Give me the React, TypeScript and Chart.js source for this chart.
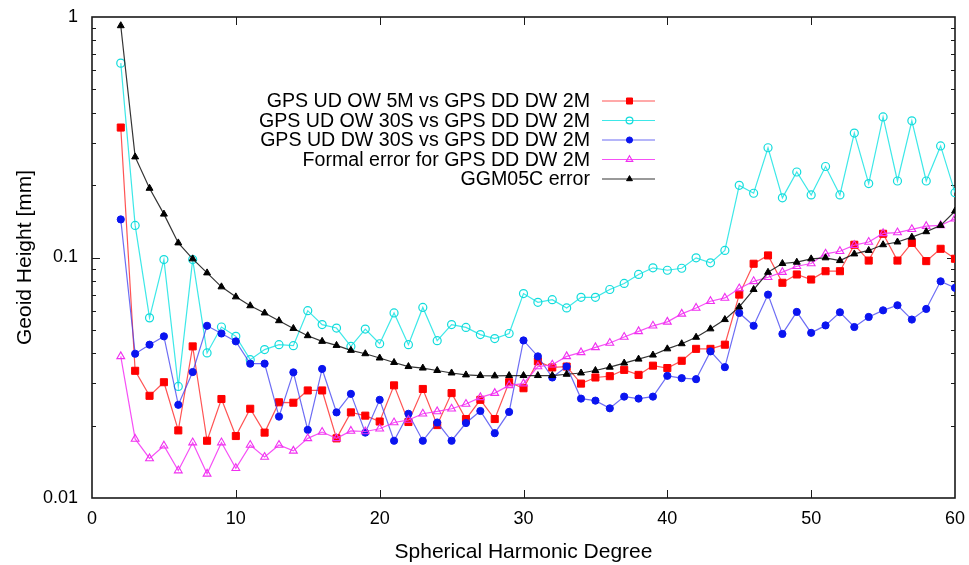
import { useEffect, useRef } from 'react';
import { Chart, registerables } from 'chart.js';
import { drawPoint } from 'chart.js/helpers';

Chart.register(...registerables);

// Spherical harmonic degree
const degrees = [
  2, 3, 4, 5, 6, 7, 8, 9, 10, 11, 12, 13, 14, 15, 16, 17, 18, 19, 20, 21,
  22, 23, 24, 25, 26, 27, 28, 29, 30, 31, 32, 33, 34, 35, 36, 37, 38, 39, 40, 41,
  42, 43, 44, 45, 46, 47, 48, 49, 50, 51, 52, 53, 54, 55, 56, 57, 58, 59, 60,
];

// Geoid height per degree [mm]
const udOw5mVsDd2m = [
  0.347, 0.0338, 0.0266, 0.0303, 0.0191, 0.0427, 0.0173, 0.0258, 0.0181, 0.0235,
  0.0187, 0.025, 0.0249, 0.028, 0.028, 0.0177, 0.0227, 0.022, 0.0208, 0.0294,
  0.0207, 0.0284, 0.0201, 0.0273, 0.0213, 0.0256, 0.0213, 0.0303, 0.0286, 0.037,
  0.0349, 0.0352, 0.0299, 0.0317, 0.0321, 0.0341, 0.0325, 0.0355, 0.0347, 0.0372,
  0.0417, 0.0417, 0.0434, 0.0701, 0.0942, 0.102, 0.0785, 0.085, 0.081, 0.0877,
  0.0877, 0.113, 0.0971, 0.1255, 0.0971, 0.115, 0.0966, 0.1087, 0.0988,
];

const udOw30sVsDd2m = [
  0.643, 0.136, 0.0561, 0.098, 0.0291, 0.098, 0.0401, 0.0514, 0.047, 0.0376,
  0.0414, 0.0434, 0.043, 0.0601, 0.0526, 0.0509, 0.0427, 0.0504, 0.0438, 0.0588,
  0.0434, 0.062, 0.0451, 0.0526, 0.0512, 0.0478, 0.046, 0.0483, 0.0708, 0.0651,
  0.0668, 0.0617, 0.0683, 0.0683, 0.0736, 0.078, 0.085, 0.0906, 0.0885, 0.0902,
  0.0997, 0.095, 0.107, 0.1995, 0.185, 0.286, 0.177, 0.2267, 0.182, 0.239,
  0.182, 0.329, 0.203, 0.384, 0.208, 0.37, 0.208, 0.291, 0.186,
];

const udDw30sVsDd2m = [
  0.144, 0.0398, 0.0434, 0.047, 0.0244, 0.0334, 0.052, 0.0483, 0.0448, 0.0362,
  0.0362, 0.0218, 0.0333, 0.0192, 0.0344, 0.0227, 0.0271, 0.0187, 0.0256, 0.0173,
  0.0224, 0.0173, 0.0206, 0.0173, 0.0205, 0.023, 0.0186, 0.0228, 0.0452, 0.0388,
  0.0317, 0.0352, 0.0259, 0.0254, 0.0236, 0.0264, 0.0259, 0.0264, 0.0322, 0.0315,
  0.0312, 0.0407, 0.035, 0.0588, 0.052, 0.0701, 0.0481, 0.0594, 0.0486, 0.0522,
  0.0592, 0.0514, 0.0566, 0.0603, 0.0633, 0.0552, 0.0611, 0.0796, 0.0748,
];

const formalErrorDd2m = [
  0.0388, 0.0176, 0.0146, 0.0165, 0.013, 0.017, 0.0126, 0.017, 0.0133, 0.0166,
  0.0148, 0.0166, 0.0157, 0.0177, 0.0188, 0.0177, 0.019, 0.0189, 0.0194, 0.0206,
  0.0211, 0.0224, 0.0229, 0.0235, 0.0246, 0.0262, 0.0273, 0.0294, 0.0299, 0.0352,
  0.0358, 0.0388, 0.0403, 0.0423, 0.0441, 0.0467, 0.0493, 0.052, 0.054, 0.0583,
  0.0617, 0.0658, 0.0679, 0.0743, 0.0796, 0.0828, 0.0869, 0.092, 0.0944, 0.1036,
  0.1062, 0.1125, 0.116, 0.126, 0.127, 0.131, 0.135, 0.136, 0.145,
];

const ggm05cError = [
  0.92, 0.262, 0.194, 0.1515, 0.115, 0.0987, 0.0863, 0.0755, 0.0686, 0.063,
  0.0588, 0.0546, 0.0507, 0.0473, 0.0448, 0.0431, 0.0411, 0.0398, 0.0382, 0.0366,
  0.0352, 0.0347, 0.0339, 0.0331, 0.0325, 0.0323, 0.0322, 0.0323, 0.0323, 0.0323,
  0.0323, 0.0327, 0.0331, 0.0339, 0.035, 0.0364, 0.0378, 0.0393, 0.0417, 0.0438,
  0.0466, 0.0505, 0.0552, 0.0623, 0.0736, 0.0868, 0.0944, 0.0956, 0.0987, 0.0997,
  0.0971, 0.1035, 0.107, 0.113, 0.116, 0.1215, 0.128, 0.136, 0.156,
];

const seriesNames = [
  'GPS UD OW 5M vs GPS DD DW 2M',
  'GPS UD OW 30S vs GPS DD DW 2M',
  'GPS UD DW 30S vs GPS DD DW 2M',
  'Formal error for GPS DD DW 2M',
  'GGM05C error',
];

const yTickValues = [0.01, 0.1, 1];
const xMin = 0;
const xMax = 60;
const xStep = 10;

const FONT = '"Liberation Sans", Arial, Helvetica, sans-serif';

const toPoints = (vals: number[]) => vals.map((v, i) => ({ x: degrees[i], y: v }));

// Box with inward ticks, gnuplot style
const framePlugin = {
  id: 'frame',
  beforeDatasetsDraw(chart: any) {
    const { ctx, chartArea, scales } = chart;
    const { left, right, top, bottom } = chartArea;
    const xs = scales.x;
    const ys = scales.y;
    ctx.save();
    ctx.strokeStyle = '#1a1a1a';
    ctx.lineWidth = 1;
    ctx.beginPath();
    for (let v = xMin + xStep; v < xMax; v += xStep) {
      const px = Math.round(xs.getPixelForValue(v)) + 0.5;
      ctx.moveTo(px, bottom);
      ctx.lineTo(px, bottom - 8);
      ctx.moveTo(px, top);
      ctx.lineTo(px, top + 8);
    }
    for (let d = 0; d < yTickValues.length - 1; d++) {
      const base = yTickValues[d];
      for (let m = 1; m < 10; m++) {
        const v = base * m;
        if (m === 1 && d === 0) continue;
        const py = Math.round(ys.getPixelForValue(v)) + 0.5;
        const len = m === 1 ? 8 : 4;
        ctx.moveTo(left, py);
        ctx.lineTo(left + len, py);
        ctx.moveTo(right, py);
        ctx.lineTo(right - len, py);
      }
    }
    ctx.stroke();
    ctx.lineWidth = 1.6;
    ctx.strokeRect(left, top, right - left, bottom - top);
    ctx.restore();
  },
};

// Legend: right-aligned labels with a line sample on the right
const keyPlugin = {
  id: 'key',
  afterDatasetsDraw(chart: any) {
    const { ctx } = chart;
    const textRight = 590;
    const lineStart = 602;
    const lineEnd = 655;
    const firstRow = 101;
    const rowGap = 19.5;
    ctx.save();
    ctx.font = `19.6px ${FONT}`;
    ctx.textAlign = 'right';
    ctx.textBaseline = 'middle';
    chart.data.datasets.forEach((ds: any, i: number) => {
      const yy = firstRow + i * rowGap;
      ctx.fillStyle = '#000';
      ctx.fillText(ds.label, textRight, yy + 1);
      ctx.strokeStyle = ds.borderColor;
      ctx.lineWidth = ds.borderWidth;
      ctx.beginPath();
      ctx.moveTo(lineStart, yy);
      ctx.lineTo(lineEnd, yy);
      ctx.stroke();
      ctx.fillStyle = ds.pointBackgroundColor;
      ctx.strokeStyle = ds.pointBorderColor;
      ctx.lineWidth = ds.pointBorderWidth;
      drawPoint(
        ctx,
        { pointStyle: ds.pointStyle, radius: ds.pointRadius * 0.85, rotation: 0, borderWidth: ds.pointBorderWidth },
        (lineStart + lineEnd) / 2 + 1,
        yy
      );
    });
    ctx.restore();
  },
};

export default function App() {
  const canvasRef = useRef<HTMLCanvasElement | null>(null);

  useEffect(() => {
    document.body.style.margin = '0';
    const canvas = canvasRef.current;
    if (!canvas) return;

    const chart = new Chart(canvas, {
      type: 'line',
      data: {
        datasets: [
          {
            label: seriesNames[0],
            data: toPoints(udOw5mVsDd2m),
            borderColor: 'rgba(255,40,40,0.8)',
            borderWidth: 1.2,
            pointStyle: 'rect',
            pointRadius: 5,
            pointBackgroundColor: '#ff0000',
            pointBorderColor: '#ff0000',
            pointBorderWidth: 1,
            order: 5,
          },
          {
            label: seriesNames[1],
            data: toPoints(udOw30sVsDd2m),
            borderColor: 'rgba(40,230,230,0.9)',
            borderWidth: 1.2,
            pointStyle: 'circle',
            pointRadius: 4,
            pointBackgroundColor: 'rgba(255,255,255,0)',
            pointBorderColor: '#12dcdc',
            pointBorderWidth: 1.2,
            order: 4,
          },
          {
            label: seriesNames[2],
            data: toPoints(udDw30sVsDd2m),
            borderColor: 'rgba(60,60,240,0.75)',
            borderWidth: 1.2,
            pointStyle: 'circle',
            pointRadius: 3.6,
            pointBackgroundColor: '#0a14f0',
            pointBorderColor: '#0a14f0',
            pointBorderWidth: 1,
            order: 3,
          },
          {
            label: seriesNames[3],
            data: toPoints(formalErrorDd2m),
            borderColor: 'rgba(245,60,245,0.9)',
            borderWidth: 1.2,
            pointStyle: 'triangle',
            pointRadius: 4.5,
            pointBackgroundColor: 'rgba(255,255,255,0)',
            pointBorderColor: '#f030f0',
            pointBorderWidth: 1.1,
            order: 2,
          },
          {
            label: seriesNames[4],
            data: toPoints(ggm05cError),
            borderColor: 'rgba(30,30,30,0.9)',
            borderWidth: 1.2,
            pointStyle: 'triangle',
            pointRadius: 4,
            pointBackgroundColor: '#000',
            pointBorderColor: '#000',
            pointBorderWidth: 1,
            order: 1,
          },
        ],
      },
      options: {
        responsive: false,
        animation: false,
        devicePixelRatio: 1,
        layout: { padding: { left: 0, right: 14, top: 17, bottom: 0 } },
        plugins: {
          legend: { display: false },
          tooltip: { enabled: false },
        },
        elements: { line: { tension: 0 } },
        scales: {
          x: {
            type: 'linear',
            min: xMin,
            max: xMax,
            grid: { display: false, drawTicks: false },
            border: { display: false },
            ticks: {
              stepSize: xStep,
              color: '#000',
              padding: 10,
              font: { family: FONT, size: 18 },
            },
            title: {
              display: true,
              text: 'Spherical Harmonic Degree',
              color: '#000',
              font: { family: FONT, size: 21 },
              padding: { top: 0, bottom: 0 },
            },
            afterFit(scale: any) {
              scale.height = 67;
              scale.paddingLeft = 0;
              scale.paddingRight = 0;
            },
          },
          y: {
            type: 'logarithmic',
            min: yTickValues[0],
            max: yTickValues[yTickValues.length - 1],
            grid: { display: false, drawTicks: false },
            border: { display: false },
            afterBuildTicks(scale: any) {
              scale.ticks = yTickValues.map((v) => ({ value: v }));
            },
            ticks: {
              color: '#000',
              padding: 14,
              font: { family: FONT, size: 18 },
              callback: (v: any) => String(v),
            },
            title: {
              display: true,
              text: 'Geoid Height [mm]',
              color: '#000',
              font: { family: FONT, size: 21 },
              padding: { top: 13, bottom: 0 },
            },
            afterFit(scale: any) {
              scale.width = 92;
              scale.paddingTop = 0;
              scale.paddingBottom = 0;
            },
          },
        },
      },
      plugins: [framePlugin, keyPlugin],
    });

    return () => chart.destroy();
  }, []);

  return <canvas ref={canvasRef} width={969} height={565} style={{ display: 'block' }} />;
}
